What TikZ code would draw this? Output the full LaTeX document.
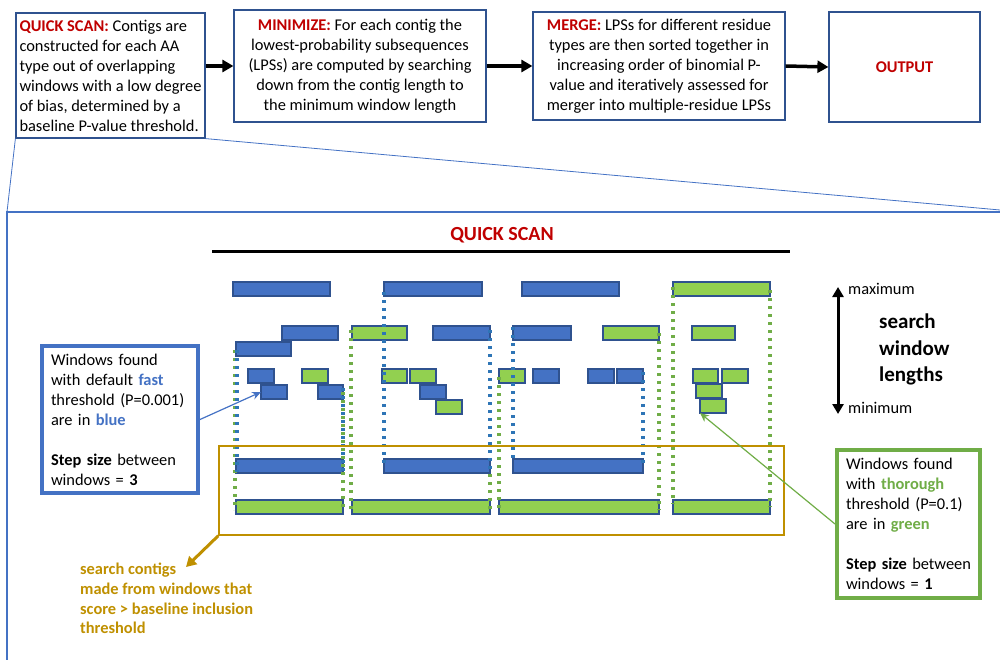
\documentclass[tikz,border=0pt]{standalone}
\usepackage{fontspec}
\setmainfont{Carlito}
\usetikzlibrary{arrows.meta}
\definecolor{bdr}{HTML}{2F528F}
\definecolor{barblue}{HTML}{4472C4}
\definecolor{bargreen}{HTML}{92D050}
\definecolor{dotblue}{HTML}{2E75B6}
\definecolor{dotgreen}{HTML}{70AD47}
\definecolor{redt}{HTML}{C00000}
\definecolor{gold}{HTML}{BF9000}
\definecolor{framec}{HTML}{4472C4}
\tikzset{
  topbox/.style={draw=bdr, line width=1.2pt, fill=white, font=\fontsize{16.4}{20}\selectfont, inner sep=3pt},
  bbar/.style={fill=barblue, draw=bdr, line width=1.3pt},
  gbar/.style={fill=bargreen, draw=bdr, line width=1.3pt},
  bdot/.style={draw=dotblue, line width=3.3pt, dash pattern=on 3.3pt off 4.7pt},
  gdot/.style={draw=dotgreen, line width=3.3pt, dash pattern=on 3.3pt off 4.7pt},
  bignarrow/.style={line width=3.5pt, -{Triangle[length=11pt,width=12pt]}},
  barnode/.style={inner sep=0pt, outer sep=0pt, minimum height=14pt, anchor=north west},
  legend/.style={line width=4pt, fill=white, font=\fontsize{16.4}{20}\selectfont, inner xsep=9pt, inner ysep=3pt, align=left}
}
\begin{document}
\begin{tikzpicture}[x=1pt,y=-1pt]
\useasboundingbox (0,0) rectangle (1000,660);

% ---------- top boxes ----------
\node[topbox, minimum width=189pt, minimum height=125pt, align=left] (qs) at (110.5,75.5)
  {\textbf{\color{redt}QUICK SCAN:} Contigs are\\constructed for each AA\\type out of overlapping\\windows with a low degree\\of bias, determined by a\\baseline P-value threshold.};
\node[topbox, minimum width=252pt, minimum height=112pt, align=center] (mn) at (360,66)
  {\textbf{\color{redt}MINIMIZE:} For each contig the\\lowest-probability subsequences\\(LPSs) are computed by searching\\down from the contig length to\\the minimum window length};
\node[topbox, minimum width=252pt, minimum height=108pt, align=center] (mg) at (659,66)
  {\textbf{\color{redt}MERGE:} LPSs for different residue\\types are then sorted together in\\increasing order of binomial P-\\value and iteratively assessed for\\merger into multiple-residue LPSs};
\node[topbox, minimum width=151pt, minimum height=110pt] (out) at (904.5,67)
  {\textbf{\color{redt}OUTPUT}};

\draw[bignarrow] (qs.east |- mn.west) -- (mn.west);
\draw[bignarrow] (mn.east) -- (mg.west);
\draw[bignarrow] (mg.east) -- (out.west);

% ---------- zoom frame ----------
\coordinate (fl) at (7,212);
\coordinate (fr) at (1000,210);
\draw[framec, line width=1.5pt] (1001,212) -- (fl) -- (7,662);
\draw[framec, line width=0.8pt] (qs.south west) -- (fl);
\draw[framec, line width=0.8pt] (qs.south east) -- (fr);

% ---------- title ----------
\node[font=\fontsize{20}{24}\selectfont\bfseries, text=redt] (title) at (502,235) {QUICK SCAN};
\draw[line width=3pt] (212,251) -- (790,251);

% ---------- bars ----------
\foreach \a/\b/\y in {233/330/282, 384/482/282, 522/619/282,
   282/338/326, 433/490/326, 513/571/326,
   236/291/342,
   248/274/369, 533/559/369, 588/614/369, 617/643/369,
   318/343/385, 420/446/385,
   236/343/459, 384/490/459, 513/643/459}
  \path[bbar] (\a,\y) rectangle (\b,\y+14);
\foreach \a/\b/\y in {673/770/282,
   352/407/326, 603/659/326, 692/735/326,
   302/328/369, 382/407/369, 410/436/369, 499/525/369, 693/718/369, 722/748/369,
   696/722/384,
   436/462/400,
   236/343/500, 352/490/500, 499/659/500, 673/770/500}
  \path[gbar] (\a,\y) rectangle (\b,\y+14);
\node[barnode, bbar, minimum width=26pt] (b5) at (261,385) {};
\node[barnode, gbar, minimum width=26pt] (g6) at (700,399) {};

% ---------- dotted contig guides ----------
\draw[gdot] (235,350) -- (235,510);
\draw[bdot] (237,350) -- (237,472);
\draw[gdot] (343,392) -- (343,510);
\draw[bdot] (343,388) -- (343,472);
\draw[gdot] (351,330) -- (351,510);
\draw[bdot] (384,292) -- (384,463);
\draw[gdot] (490,330) -- (490,510);
\draw[bdot] (490,330) -- (490,472);
\draw[gdot] (499,377) -- (499,510);
\draw[bdot] (513,327) -- (513,461);
\draw[bdot] (643,372) -- (643,464);
\draw[gdot] (659,333) -- (659,510);
\draw[gdot] (673,287) -- (673,504);
\draw[gdot] (770,290) -- (770,507);

% ---------- contig box ----------
\node[draw=gold, line width=1.5pt, minimum width=565pt, minimum height=89pt, inner sep=0pt] (cb) at (501.5,490.5) {};
\node[font=\fontsize{16.4}{19.7}\selectfont\bfseries, text=gold, align=left, anchor=west, inner sep=3pt] (ot) at (77,598.5)
  {search contigs\\made from windows that\\score > baseline inclusion\\threshold};
\coordinate (otip) at (186,567);
\draw[gold, line width=3pt, -{Triangle[length=10pt,width=11pt]}] (cb.south west) -- (otip);

% ---------- legends ----------
\node[legend, draw=barblue, text width=138pt, minimum height=147pt] (lb) at (120,419.5)
  {Windows found\\with default \textbf{\color{barblue}fast}\\threshold (P=0.001)\\are in \textbf{\color{barblue}blue}\\[20pt]\textbf{Step size} between\\windows = \textbf{3}};
\node[legend, draw=dotgreen, text width=125pt, minimum height=148pt] (gb) at (908.5,524)
  {Windows found\\with \textbf{\color{dotgreen}thorough}\\threshold (P=0.1)\\are in \textbf{\color{dotgreen}green}\\[20pt]\textbf{Step size} between\\windows = \textbf{1}};
\draw[barblue, line width=1.2pt, -{Stealth[length=9pt,width=8pt]}] (lb.east) -- (b5.west);
\draw[dotgreen, line width=1.2pt, -{Stealth[length=9pt,width=8pt]}] (gb.west) -- (g6.south west);

% ---------- search window lengths ----------
\coordinate (atop) at (838,287);
\coordinate (abot) at (838,414);
\draw[line width=3pt, {Triangle[length=10pt,width=11pt]}-{Triangle[length=10pt,width=11pt]}] (atop) -- (abot);
\node[font=\fontsize{16.4}{20}\selectfont, anchor=west, inner sep=3pt] (mx) at (845,289) {maximum};
\node[font=\fontsize{16.4}{20}\selectfont, anchor=west, inner sep=3pt] (mi) at (845,408) {minimum};
\node[font=\fontsize{21}{26.5}\selectfont\bfseries, anchor=west, align=left, inner sep=3pt] (swl) at (876,349.5)
  {search\\window\\lengths};
\end{tikzpicture}
\end{document}
